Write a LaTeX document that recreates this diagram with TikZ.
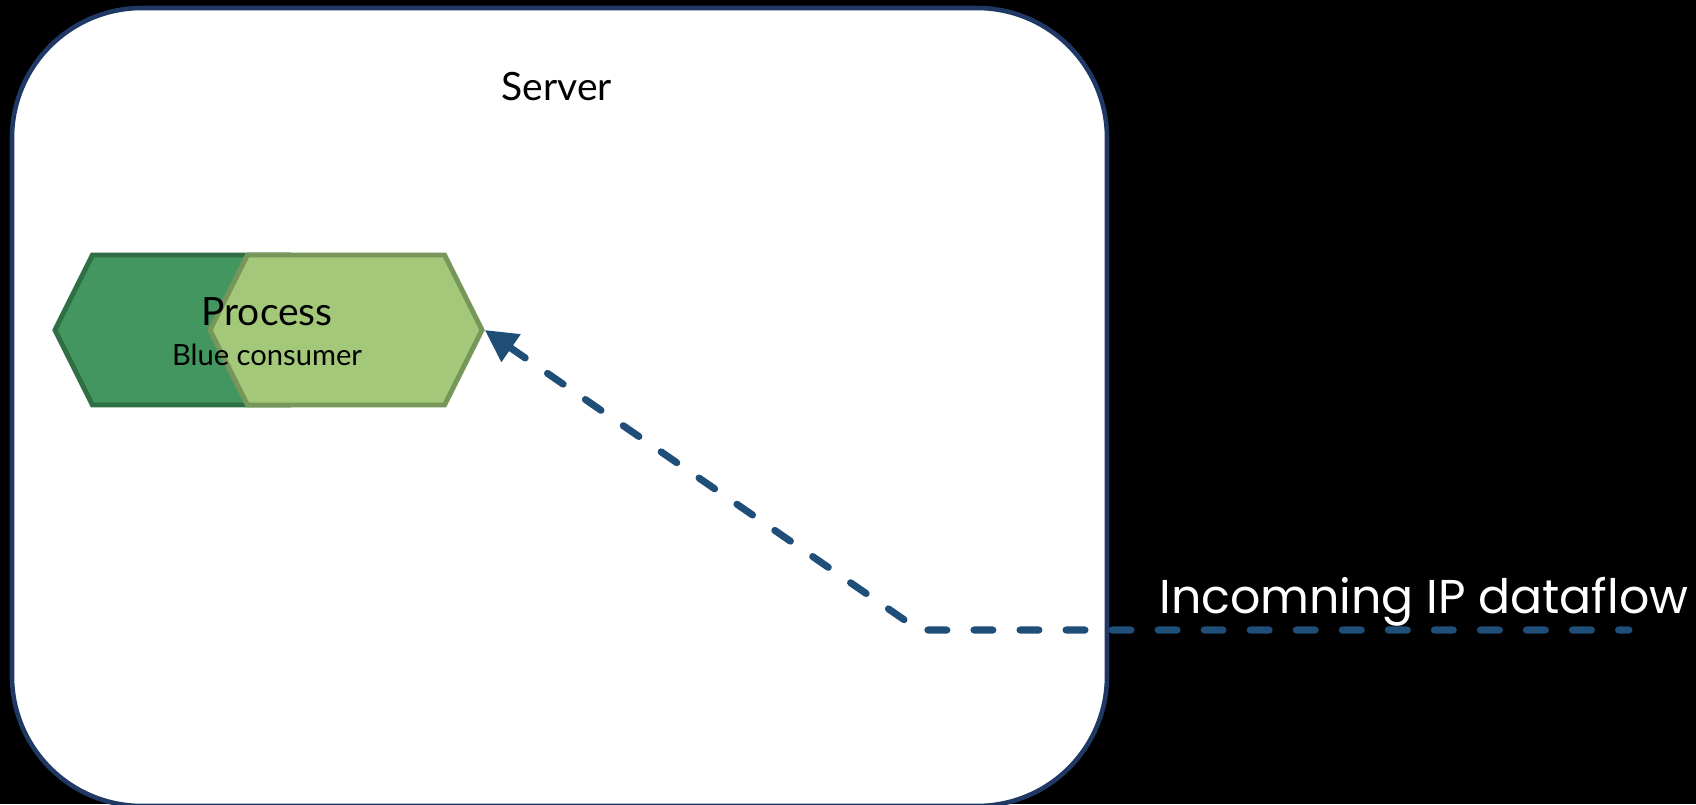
\documentclass[tikz,border=0pt]{standalone}
\usepackage{fontspec}
\setmainfont{Lato}
\newfontfamily\thinfont{Poppins}
\usepackage{tikz}
\usetikzlibrary{shapes.symbols, arrows.meta}
\definecolor{serverBorder}{HTML}{203864}
\definecolor{flowBlue}{HTML}{1F4E79}
\definecolor{darkGreen}{HTML}{43965F}
\definecolor{darkGreenLine}{HTML}{2F6F44}
\definecolor{lightGreen}{HTML}{A3C87A}
\definecolor{lightGreenLine}{HTML}{76965A}
\tikzstyle{server} = [rectangle, draw=serverBorder, fill=white, line width=1.3pt, rounded corners=1.3cm, minimum width=10.95cm, minimum height=7.98cm, inner sep=0pt]
\tikzstyle{hexagon} = [signal, signal to=east and west, signal pointer angle=127, minimum width=2.72cm, minimum height=1.5cm, inner sep=0pt, line width=1.4pt]
\tikzstyle{procBack} = [hexagon, draw=darkGreenLine, fill=darkGreen]
\tikzstyle{procFront} = [hexagon, draw=lightGreenLine, fill=lightGreen]
\tikzstyle{title} = [anchor=base, inner sep=0pt, font=\fontsize{11.1}{13}\selectfont]
\tikzstyle{subtitle} = [anchor=base, inner sep=0pt, font=\fontsize{8.3}{10}\selectfont]
\tikzstyle{flowLabel} = [anchor=base, inner sep=0pt, text=white, font=\thinfont\fontsize{13.5}{16}\selectfont]
\tikzstyle{connector} = [draw=flowBlue, line width=2pt, line cap=round, dash pattern=on 5.4pt off 7.7pt, {Triangle[length=0.32cm, width=0.32cm]}-]

\begin{document}
\begin{tikzpicture}

\path[use as bounding box, fill=black] (0,0) rectangle (16.96,8.04);

\node[server] at (5.595,3.97) (server) {};
\node[title] at (5.57,7.04) (serverLabel) {Server};

\node[procBack] at (1.91,4.74) (procBack) {};
\node[procFront] at (3.46,4.74) (procFront) {};
\node[title] at (2.67,4.79) (procTitle) {Process};
\node[subtitle] at (2.67,4.39) (procSub) {Blue consumer};

\coordinate (bend) at (9.19,1.74);
\coordinate (source) at (16.29,1.74);
\node[flowLabel] at (14.24,1.91) (flowLabel) {Incomning IP dataflow};

\path [connector] (procFront.east) -- (bend) -- (source);

\end{tikzpicture}
\end{document}
